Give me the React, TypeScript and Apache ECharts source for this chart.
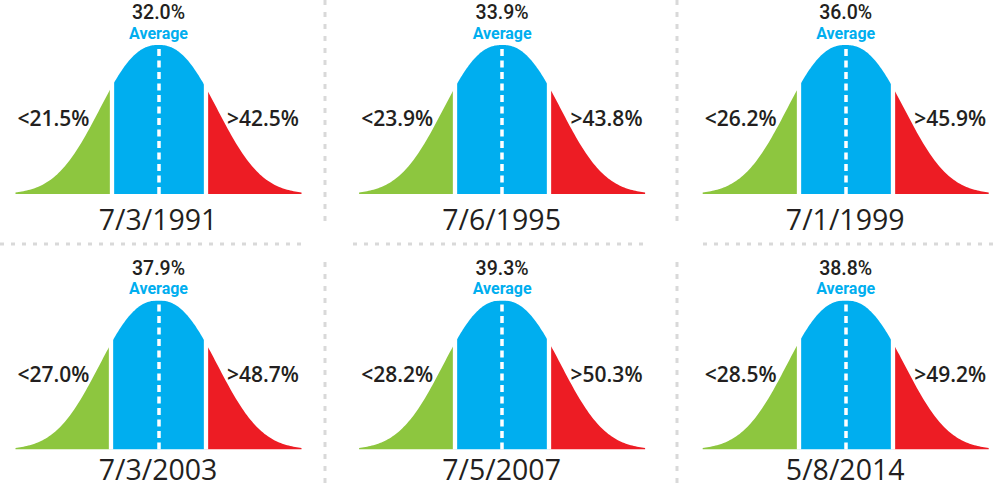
import React, { useEffect, useRef } from "react";
import * as echarts from "echarts";

const dates = ["7/3/1991", "7/6/1995", "7/1/1999", "7/3/2003", "7/5/2007", "5/8/2014"];
const averages = [32.0, 33.9, 36.0, 37.9, 39.3, 38.8];
const lows = [21.5, 23.9, 26.2, 27.0, 28.2, 28.5];
const highs = [42.5, 43.8, 45.9, 48.7, 50.3, 49.2];

const GREEN = "#8dc63f";
const BLUE = "#00aeef";
const RED = "#ed1c24";
const DARK = "#231f20";
const SEP = "#d9d9d9";
const FONT = "'Open Sans', 'Noto Sans', sans-serif";
const TOP_FONT = "Roboto, 'Open Sans', sans-serif";

// bell shape, in units of the half-spread between the low and high cuts
const EXTENT = 3.04;
const shape = (z: number) => Math.exp(-Math.pow(Math.abs(z) / 1.596, 2.35));

function segment(m: number, w: number, from: number, to: number, n: number) {
  const pts: number[][] = [];
  for (let i = 0; i <= n; i++) {
    const x = from + ((to - from) * i) / n;
    pts.push([x, shape((x - m) / w)]);
  }
  return pts;
}

export default function App() {
  const ref = useRef<HTMLDivElement>(null);
  useEffect(() => {
    if (!ref.current) return;
    const chart = echarts.init(ref.current, undefined, { renderer: "svg" });
    const colCx = [158.5, 502.1, 845.7];
    const grids: any[] = [];
    const xAxes: any[] = [];
    const yAxes: any[] = [];
    const series: any[] = [];
    const graphics: any[] = [];

    const txt = (
      x: number,
      y: number,
      text: string,
      size: number,
      weight: any,
      fill: string,
      align: string,
      family: string = FONT
    ) => ({
      type: "text",
      x,
      y,
      style: {
        text,
        fill,
        fontFamily: family,
        fontSize: size,
        fontWeight: weight,
        align,
        verticalAlign: "middle",
      },
    });

    dates.forEach((d, i) => {
      const col = i % 3;
      const row = Math.floor(i / 3);
      const cx = colCx[col];
      const oy = row * 255.5;
      const m = averages[i];
      const L = lows[i];
      const H = highs[i];
      const w = (H - L) / 2;
      const xmin = m - EXTENT * w;
      const xmax = m + EXTENT * w;
      grids.push({ left: cx - 143, width: 286, top: 45 + oy, height: 149 });
      xAxes.push({ type: "value", gridIndex: i, min: xmin, max: xmax, show: false });
      yAxes.push({ type: "value", gridIndex: i, min: 0, max: 1, show: false });
      const common = {
        type: "line",
        xAxisIndex: i,
        yAxisIndex: i,
        showSymbol: false,
        symbol: "none",
        silent: true,
        lineStyle: { width: 0 },
      };
      series.push({ ...common, data: segment(m, w, xmin, L, 60), areaStyle: { color: GREEN, opacity: 1 } });
      series.push({ ...common, data: segment(m, w, H, xmax, 60), areaStyle: { color: RED, opacity: 1 } });
      series.push({
        ...common,
        data: segment(m, w, L, H, 80),
        areaStyle: { color: BLUE, opacity: 1 },
        markLine: {
          silent: true,
          symbol: "none",
          label: { show: false },
          data: [
            { xAxis: L, lineStyle: { color: "#ffffff", width: 4.3, type: "solid" } },
            { xAxis: H, lineStyle: { color: "#ffffff", width: 4.3, type: "solid" } },
            { xAxis: m, lineStyle: { color: "#ffffff", width: 3.5, type: [7, 4.5] } },
          ],
        },
      });

      graphics.push(txt(cx, 12.5 + oy, m.toFixed(1) + "%", 19.5, 500, DARK, "center", TOP_FONT));
      graphics.push(txt(cx, 33 + oy, "Average", 16, "bold", BLUE, "center", TOP_FONT));
      graphics.push(txt(cx - 69, 118 + oy, "<" + L.toFixed(1) + "%", 21, 600, DARK, "right"));
      graphics.push(txt(cx + 68.5, 118 + oy, ">" + H.toFixed(1) + "%", 21, 600, DARK, "left"));
      graphics.push(txt(cx - 0.5, row === 0 ? 219 : 468.5, d, 28.5, "normal", DARK, "center"));
    });

    // separators
    const hSegs = [
      [0, 302],
      [353, 647],
      [703, 1000],
    ];
    hSegs.forEach(([a, b]) => {
      graphics.push({
        type: "line",
        shape: { x1: a, y1: 244, x2: b, y2: 244 },
        style: { stroke: SEP, lineWidth: 3, lineDash: [4, 7] },
      });
    });
    [325, 677].forEach((x) => {
      graphics.push({
        type: "line",
        shape: { x1: x, y1: 0, x2: x, y2: 228 },
        style: { stroke: SEP, lineWidth: 3, lineDash: [5, 7] },
      });
      graphics.push({
        type: "line",
        shape: { x1: x, y1: 262, x2: x, y2: 487 },
        style: { stroke: SEP, lineWidth: 3, lineDash: [5, 7] },
      });
    });

    chart.setOption({
      animation: false,
      backgroundColor: "#ffffff",
      grid: grids,
      xAxis: xAxes,
      yAxis: yAxes,
      series,
      graphic: graphics,
    });
    return () => chart.dispose();
  }, []);
  return (
    <div
      ref={ref}
      style={{ position: "fixed", left: 0, top: 0, width: 1000, height: 487, background: "#fff" }}
    />
  );
}
